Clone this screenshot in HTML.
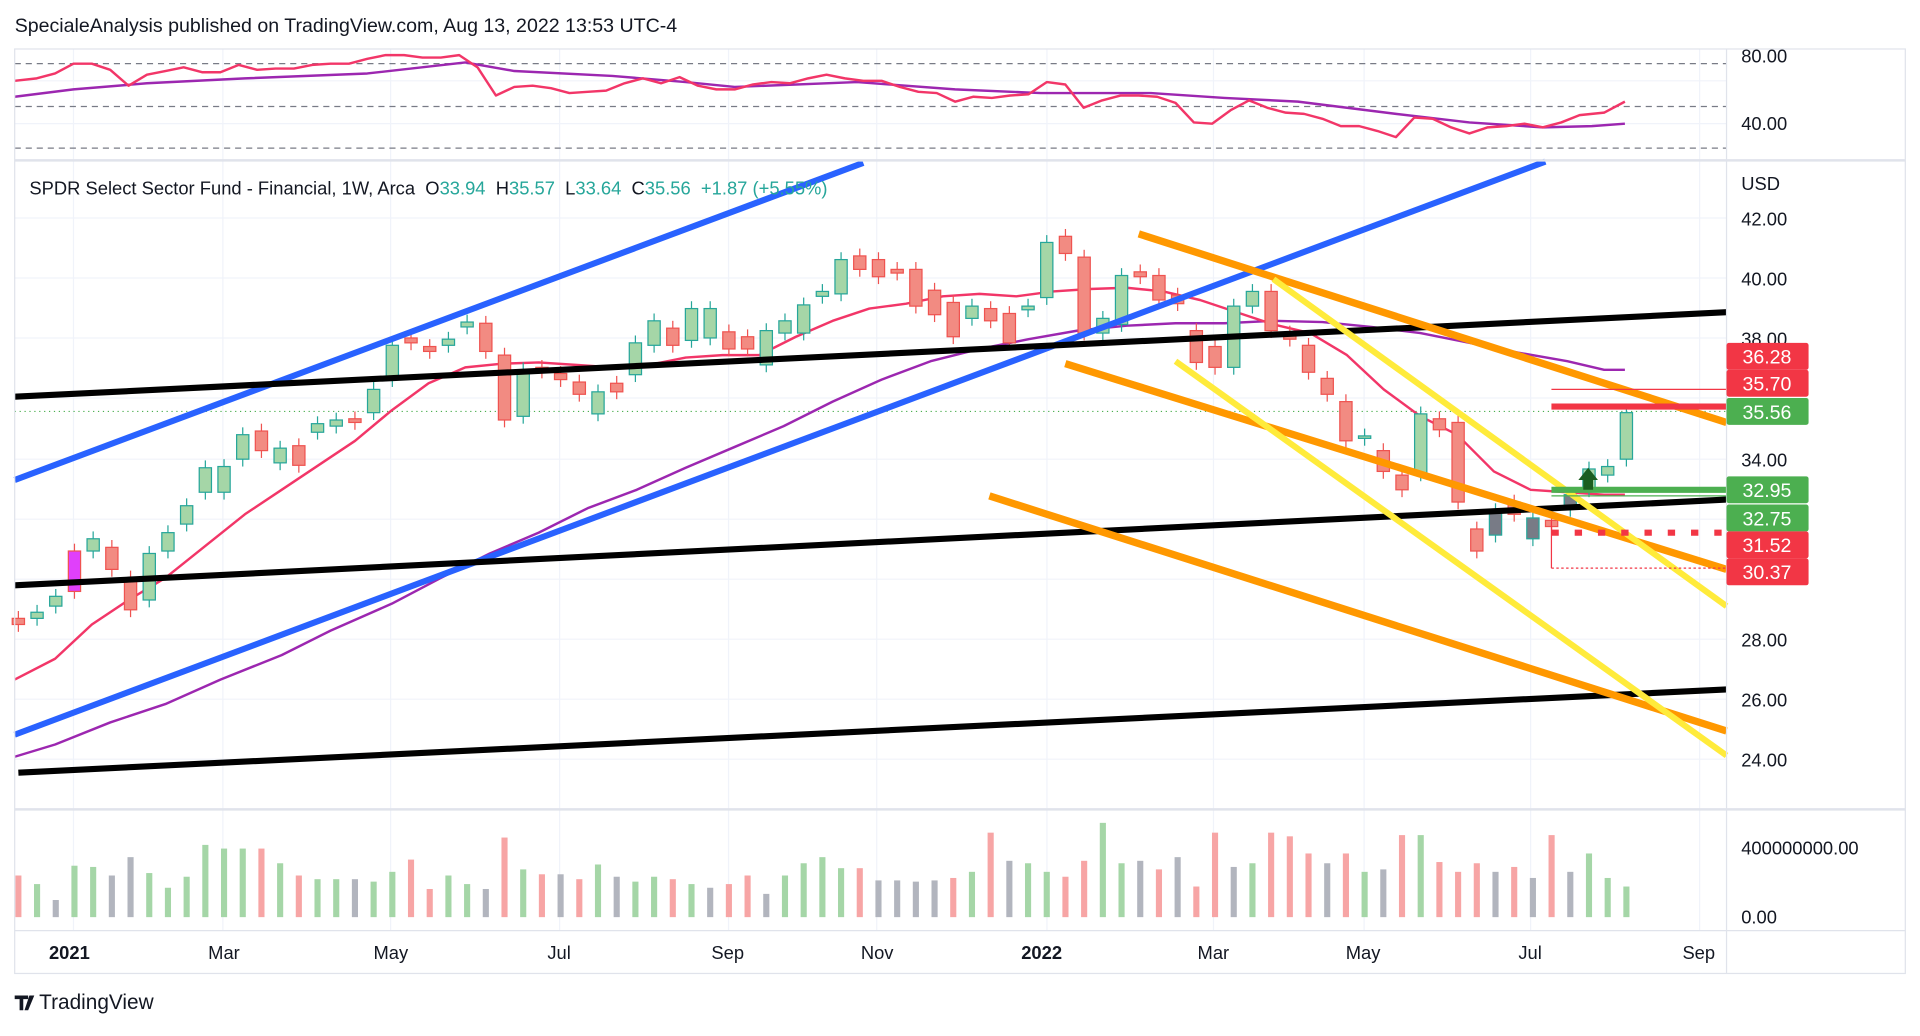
<!DOCTYPE html>
<html><head><meta charset="utf-8"><style>
html,body{margin:0;padding:0;background:#fff;width:1920px;height:1030px;overflow:hidden}
#w{position:absolute;left:0;top:0;width:1568px;height:841px;transform:scale(1.22449);transform-origin:0 0;font-family:"Liberation Sans",sans-serif}
svg text{font-family:"Liberation Sans",sans-serif}
</style></head><body><div id="w">
<svg id="s" width="1568" height="841" viewBox="0 0 1568 841" xmlns="http://www.w3.org/2000/svg">
<text x="12" y="26" font-size="16" fill="#131722">SpecialeAnalysis published on TradingView.com, Aug 13, 2022 13:53 UTC-4</text>
<g id="grid"></g>
<g id="lines"></g>
<rect x="12" y="40" width="1544" height="755" fill="none" stroke="#e0e3eb"/>
<line x1="1410" y1="40" x2="1410" y2="795" stroke="#e0e3eb"/>
<line x1="12" y1="131" x2="1556" y2="131" stroke="#e0e3eb" stroke-width="2"/>
<line x1="12" y1="661" x2="1556" y2="661" stroke="#e0e3eb" stroke-width="2"/>
<line x1="12" y1="760" x2="1556" y2="760" stroke="#e0e3eb"/>
<g font-size="15" fill="#131722">
<text x="1422" y="51">80.00</text><text x="1422" y="106">40.00</text>
<text x="1422" y="155">USD</text>
<text x="1422" y="184">42.00</text><text x="1422" y="233">40.00</text><text x="1422" y="282">38.00</text>
<text x="1422" y="381">34.00</text><text x="1422" y="528">28.00</text><text x="1422" y="577">26.00</text><text x="1422" y="626">24.00</text>
<text x="1422" y="698">400000000.00</text><text x="1422" y="754">0.00</text>
</g>
<g font-size="15" fill="#131722">
<text x="40" y="783" font-weight="bold">2021</text><text x="170" y="783">Mar</text><text x="305" y="783">May</text>
<text x="447" y="783">Jul</text><text x="581" y="783">Sep</text><text x="703" y="783">Nov</text>
<text x="834" y="783" font-weight="bold">2022</text><text x="978" y="783">Mar</text><text x="1099" y="783">May</text>
<text x="1240" y="783">Jul</text><text x="1374" y="783">Sep</text>
</g>
<g id="labels"></g>
<text x="24" y="159" font-size="15" fill="#131722" style="white-space:pre">SPDR Select Sector Fund - Financial, 1W, Arca  O<tspan fill="#26a69a">33.94</tspan>  H<tspan fill="#26a69a">35.57</tspan>  L<tspan fill="#26a69a">33.64</tspan>  C<tspan fill="#26a69a">35.56  +1.87 (+5.55%)</tspan></text>
<g transform="translate(12,810)"><path d="M0 3h11v3H7v9H4V6H0z M12 3h4l-5 12h-3z" fill="#131722"/><text x="20" y="14" font-size="17" fill="#131722">TradingView</text></g>
</svg>
</div>
<script>
const NS="http://www.w3.org/2000/svg",S=document.getElementById('s');
function el(p,t,a){const e=document.createElementNS(NS,t);for(const k in a)e.setAttribute(k,a[k]);(typeof p==='string'?document.getElementById(p):p).appendChild(e);return e;}
const G='grid';
[60,182,319,457,595,716,855,991,1114,1250,1388].forEach(x=>el(G,'line',{x1:x,y1:40,x2:x,y2:760,stroke:'#f0f3fa'}));
[178,227,276,325,375,424,473,522,571,620].forEach(y=>el(G,'line',{x1:12,y1:y,x2:1410,y2:y,stroke:'#f0f3fa'}));
[66,101].forEach(y=>el(G,'line',{x1:12,y1:y,x2:1410,y2:y,stroke:'#f0f3fa'}));
[52,87,121].forEach(y=>el(G,'line',{x1:12,y1:y,x2:1410,y2:y,stroke:'#787b86','stroke-dasharray':'5 4'}));
const L='lines';
function pl(pts,c,w,extra){const a={points:pts.map(p=>p.join(',')).join(' '),fill:'none',stroke:c,'stroke-width':w,'stroke-linejoin':'round'};Object.assign(a,extra||{});el(L,'polyline',a);}
pl([[12,79],[60,73],[120,68],[200,64],[300,60],[380,51],[420,58],[500,62],[560,67],[600,71],[700,67],[780,73],[850,76],[940,76],[1000,80],[1060,83],[1140,93],[1200,100],[1260,104],[1300,103],[1327,101]],'#9c27b0',2);
pl([[12,66],[30,64],[45,60],[60,52],[75,52],[90,57],[105,70],[120,61],[135,58],[150,55],[165,59],[180,59],[195,53],[210,57],[225,56],[240,56],[255,53],[270,52],[285,52],[300,48],[315,45],[330,45],[345,47],[360,47],[375,45],[390,55],[405,78],[420,71],[435,70],[450,72],[465,76],[480,75],[495,74],[510,68],[525,64],[540,68],[555,63],[570,70],[585,73],[600,73],[615,69],[630,67],[645,68],[660,64],[675,61],[690,64],[705,66],[720,66],[735,71],[750,75],[765,76],[780,83],[795,79],[810,80],[825,78],[840,77],[855,67],[870,69],[885,88],[900,82],[915,78],[930,78],[945,79],[960,84],[975,100],[990,101],[1005,90],[1020,82],[1035,88],[1050,92],[1065,93],[1080,97],[1095,103],[1110,103],[1125,107],[1140,112],[1155,96],[1170,97],[1185,104],[1200,109],[1215,104],[1230,103],[1245,101],[1260,104],[1275,100],[1290,94],[1310,92],[1327,83]],'#f23668',2);
el(L,'line',{x1:12,y1:336,x2:1410,y2:336,stroke:'#4caf50','stroke-dasharray':'1 3'});
pl([[12,618],[45,608],[90,590],[135,575],[180,555],[230,535],[270,515],[320,493],[360,472],[400,452],[440,435],[480,415],[520,400],[560,382],[600,365],[640,348],[680,328],[720,310],[760,295],[800,285],[840,277],[880,270],[920,266],[960,264],[1000,264],[1040,262],[1080,263],[1120,267],[1160,272],[1200,280],[1240,288],[1280,295],[1310,302],[1327,302]],'#9c27b0',2);
pl([[12,555],[45,538],[75,510],[105,490],[135,472],[165,448],[200,420],[230,400],[260,380],[290,360],[320,335],[350,313],[380,300],[410,297],[440,296],[470,298],[500,300],[530,298],[560,292],[590,290],[620,290],[650,275],[680,262],[710,252],[740,248],[770,242],[800,240],[830,242],[860,238],[890,236],[920,235],[950,238],[980,245],[1010,255],[1040,265],[1070,272],[1100,290],[1130,318],[1160,340],[1190,355],[1220,385],[1250,400],[1280,402],[1310,404],[1327,404]],'#f23668',2);
const C=[[505,510,'r'],[505,500,'g'],[495,487,'g'],[483,450,'p'],[450,440,'g'],[447,465,'r'],[472,498,'r'],[490,452,'g'],[450,435,'g'],[428,413,'g'],[402,382,'g'],[402,381,'g'],[375,355,'g'],[352,368,'r'],[378,366,'g'],[364,380,'r'],[353,346,'g'],[348,343,'g'],[342,345,'r'],[337,318,'g'],[310,282,'g'],[276,280,'r'],[283,287,'r'],[282,277,'g'],[267,263,'g'],[264,287,'r'],[290,343,'r'],[340,302,'g'],[300,303,'r'],[305,310,'r'],[312,322,'r'],[338,320,'g'],[313,320,'r'],[306,280,'g'],[282,262,'g'],[268,282,'r'],[278,252,'g'],[276,252,'g'],[271,285,'r'],[275,285,'r'],[298,270,'g'],[272,262,'g'],[272,249,'g'],[242,238,'g'],[240,212,'g'],[209,220,'r'],[212,226,'r'],[220,223,'r'],[220,250,'r'],[237,257,'r'],[247,275,'r'],[260,250,'g'],[252,262,'r'],[256,280,'r'],[253,250,'g'],[243,198,'g'],[193,207,'r'],[210,272,'r'],[272,260,'g'],[265,225,'g'],[222,226,'r'],[225,245,'r'],[241,248,'r'],[270,296,'r'],[283,300,'r'],[300,250,'g'],[250,238,'g'],[238,270,'r'],[272,277,'r'],[282,304,'r'],[309,322,'r'],[328,360,'r'],[358,356,'g'],[368,385,'r'],[388,400,'r'],[387,338,'g'],[342,351,'r'],[345,410,'r'],[432,450,'r'],[437,417,'k'],[410,420,'r'],[440,423,'k'],[425,430,'r'],[416,404,'k'],[400,383,'g'],[388,381,'g'],[375,337,'g']];
const col={g:['#a5d6a7','#26a69a'],r:['#f28b82','#ef5350'],p:['#e040fb','#ef5350'],k:['#787b86','#26a69a']};
const V=[715,722,735,707,708,715,700,713,725,716,690,693,693,693,705,715,718,718,718,720,712,702,726,715,722,726,684,710,714,714,718,706,716,720,716,718,722,725,722,715,730,715,705,700,709,709,719,719,720,719,717,712,680,703,705,712,716,703,672,705,703,710,700,724,680,708,705,680,683,697,705,697,712,710,682,682,704,712,705,712,708,717,682,712,697,717,724];
const gray=new Set([2,5,6,18,25,29,32,37,40,46,47,48,49,53,60,62,65,70,73,79,81,83]);
C.forEach((c,i)=>{const x=15+i*15.27,[o,cl,t]=c,top=Math.min(o,cl),bot=Math.max(o,cl),h=Math.max(bot-top,2);
const [f,s]=col[t];
el(L,'line',{x1:x,y1:top-6,x2:x,y2:bot+6,stroke:s,'stroke-width':1});
el(L,'rect',{x:x-5,y:top,width:10,height:h,fill:f,stroke:s,'stroke-width':1});
const vy=V[i]||715;const vc=gray.has(i)?'#b2b5be':(t==='r'?'#f7a5a5':'#a5d6a7');
el(L,'rect',{x:x-2.5,y:vy,width:5,height:749-vy,fill:vc});
});
const T=[[12,392,705,133,'#2962ff',5],[12,600,1262,132,'#2962ff',5],[12,324,1410,255,'#000',5],[12,478,1410,408,'#000',5],[15,631,1410,563,'#000',5],[930,191,1410,345,'#ff9800',6],[870,297,1410,465,'#ff9800',6],[808,405,1410,597,'#ff9800',6],[960,295,1410,617,'#ffeb3b',5],[1040,228,1410,495,'#ffeb3b',5]];
T.forEach(t=>el(L,'line',{x1:t[0],y1:t[1],x2:t[2],y2:t[3],stroke:t[4],'stroke-width':t[5]}));
el(L,'line',{x1:1267,y1:332,x2:1410,y2:332,stroke:'#f23645','stroke-width':5});
el(L,'line',{x1:1267,y1:318,x2:1410,y2:318,stroke:'#f23645','stroke-width':1});
el(L,'line',{x1:1267,y1:400,x2:1410,y2:400,stroke:'#4caf50','stroke-width':5});
el(L,'line',{x1:1267,y1:405,x2:1410,y2:405,stroke:'#4caf50','stroke-width':1});
el(L,'line',{x1:1267,y1:435,x2:1410,y2:435,stroke:'#f23645','stroke-width':5,'stroke-dasharray':'6 13'});
el(L,'line',{x1:1267,y1:464,x2:1410,y2:464,stroke:'#f23645','stroke-width':1,'stroke-dasharray':'2 2'});
el(L,'line',{x1:1267,y1:425,x2:1267,y2:464,stroke:'#f23645','stroke-width':1});
el(L,'path',{d:'M1289 392 L1297 382 L1305 392 L1301 392 L1301 400 L1293 400 L1293 392Z',fill:'#1b5e20'});
[['36.28',291,'#f23645'],['35.70',313,'#f23645'],['35.56',336,'#4caf50'],['32.95',400,'#4caf50'],['32.75',423,'#4caf50'],['31.52',445,'#f23645'],['30.37',467,'#f23645']].forEach(l=>{
el('labels','rect',{x:1410,y:l[1]-11,width:67,height:22,fill:l[2],rx:2});
const t=el('labels','text',{x:1423,y:l[1]+6,'font-size':16,fill:'#fff'});t.textContent=l[0];});
</script>
</body></html>
